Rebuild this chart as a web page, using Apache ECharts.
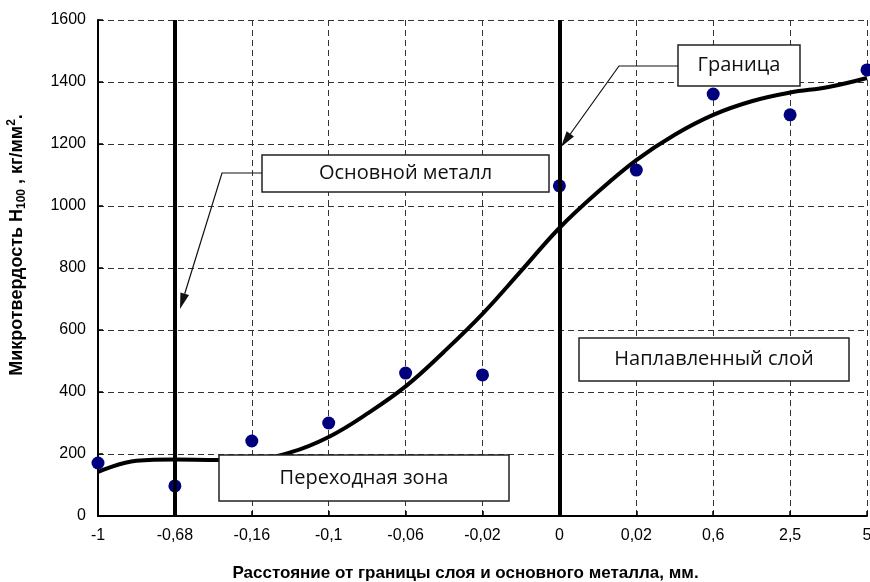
<!DOCTYPE html>
<html>
<head>
<meta charset="utf-8">
<script src="https://cdn.jsdelivr.net/npm/echarts@6/dist/echarts.min.js"></script>
<style>
html,body{margin:0;padding:0;background:#fff;}
#chart{width:870px;height:582px;}
</style>
</head>
<body>
<div id="chart"></div>
<script>
// Tick labels (categorical positions 0..10)
const xLabels = ['-1', '-0,68', '-0,16', '-0,1', '-0,06', '-0,02', '0', '0,02', '0,6', '2,5', '5'];
// Measured points (index along x, value)
const pointX = [0, 1, 2, 3, 4, 5, 6, 7, 8, 9, 10];
const pointY = [171, 97, 242, 300, 461, 455, 1065, 1116, 1361, 1294, 1439];
// Fitted curve
const curveX = [0, 0.5, 1, 1.5, 2, 2.5, 3, 3.5, 4, 4.5, 5, 5.5, 6, 6.5, 7, 7.5, 8, 8.5, 9, 9.5, 10];
const curveY = [142, 178, 182, 181, 182, 205, 255, 330, 418, 530, 652, 790, 929, 1045, 1148, 1230, 1294, 1338, 1366, 1384, 1413];
// Vertical boundary lines (at x indices)
const boundaryX = [1, 6];
const yTicks = [0, 200, 400, 600, 800, 1000, 1200, 1400, 1600];

const chart = echarts.init(document.getElementById('chart'), null, {renderer: 'canvas'});
const axisFont = 'Liberation Sans, Arial, sans-serif';
const boxFont = '"Open Sans", "Noto Sans", sans-serif';

function box(x, y, w, h, text) {
  return {
    type: 'group', z: 100,
    children: [
      {type: 'rect', z: 100, shape: {x: x, y: y, width: w, height: h},
       style: {fill: '#fff', stroke: '#222', lineWidth: 1.5}},
      {type: 'text', z: 101, x: x + w / 2, y: y + h / 2,
       style: {text: text, fill: '#111', font: '20px ' + boxFont, textAlign: 'center', textVerticalAlign: 'middle'}}
    ]
  };
}
function arrow(points, tip, from) {
  const dx = tip[0] - from[0], dy = tip[1] - from[1];
  const L = Math.sqrt(dx * dx + dy * dy);
  const ux = dx / L, uy = dy / L;
  const hl = 16, hw = 4.5;
  const bx = tip[0] - ux * hl, by = tip[1] - uy * hl;
  return {
    type: 'group', z: 99,
    children: [
      {type: 'polyline', z: 99, shape: {points: points.concat([[bx, by]])}, style: {stroke: '#111', lineWidth: 1.2, fill: null}},
      {type: 'polygon', z: 99, shape: {points: [tip, [bx - uy * hw, by + ux * hw], [bx + uy * hw, by - ux * hw]]},
       style: {fill: '#111'}}
    ]
  };
}

const option = {
  backgroundColor: '#fff',
  animation: false,
  grid: {left: 98, right: 3, top: 20, bottom: 66, containLabel: false, outerBoundsMode: 'none'},
  xAxis: {
    type: 'value', min: 0, max: 10, interval: 1,
    name: 'Расстояние от границы слоя и основного металла, мм.',
    nameLocation: 'middle', nameGap: 49,
    nameTextStyle: {fontFamily: axisFont, fontWeight: 'bold', fontSize: 17, color: '#000', padding: [0, 34, 0, 0]},
    axisLine: {lineStyle: {color: '#000', width: 2}},
    axisTick: {inside: true, length: 5, lineStyle: {color: '#000', width: 1.5}},
    axisLabel: {
      formatter: v => xLabels[Math.round(v)] || '',
      fontFamily: axisFont, fontSize: 16, color: '#000', margin: 12
    },
    splitLine: {show: true, lineStyle: {color: '#333', type: [6, 4], width: 1}}
  },
  yAxis: {
    type: 'value', min: 0, max: 1600, interval: 200,
    name: '{b|Микротвердость H}{sub|100}{b| , кг/мм}{sup|2}{b|.}',
    nameLocation: 'middle', nameGap: 70, nameRotate: 90,
    nameTextStyle: {
      fontFamily: axisFont, fontWeight: 'bold', fontSize: 18, color: '#000',
      padding: [0, 0, 0, 46],
      rich: {
        b: {fontFamily: axisFont, fontWeight: 'bold', fontSize: 18, color: '#000', verticalAlign: 'middle', lineHeight: 22},
        sub: {fontFamily: axisFont, fontWeight: 'bold', fontSize: 12, color: '#000', verticalAlign: 'bottom', lineHeight: 22, padding: [7, 0, 0, 0]},
        sup: {fontFamily: axisFont, fontWeight: 'bold', fontSize: 12, color: '#000', verticalAlign: 'top', lineHeight: 22}
      }
    },
    axisLine: {show: true, lineStyle: {color: '#000', width: 2}},
    axisTick: {show: true, inside: true, length: 5, lineStyle: {color: '#000', width: 1.5}},
    axisLabel: {fontFamily: axisFont, fontSize: 16, color: '#000', margin: 12,
      formatter: v => yTicks.indexOf(v) >= 0 ? String(v) : ''},
    splitLine: {show: true, lineStyle: {color: '#333', type: [6, 4], width: 1}}
  },
  series: [
    {
      type: 'line', smooth: 0.4, showSymbol: false, symbol: 'none', z: 3,
      data: curveX.map((x, i) => [x, curveY[i]]),
      lineStyle: {color: '#000', width: 4},
      markLine: {
        silent: true, symbol: ['none', 'none'], label: {show: false},
        lineStyle: {color: '#000', width: 4, type: 'solid'},
        data: boundaryX.map(x => ({xAxis: x}))
      }
    },
    {
      type: 'scatter', symbolSize: 13, z: 4,
      itemStyle: {color: '#00007f', opacity: 1},
      data: pointX.map((x, i) => [x, pointY[i]])
    }
  ],
  graphic: [
    box(262, 155, 287, 37, 'Основной металл'),
    box(678, 45, 122, 41, 'Граница'),
    box(579, 338, 270, 43, 'Наплавленный слой'),
    box(219, 455, 290, 46, 'Переходная зона'),
    arrow([[262, 173], [222, 173]], [180, 309], [222, 173]),
    arrow([[678, 66], [619, 66]], [561, 147], [619, 66])
  ]
};
chart.setOption(option);
</script>
</body>
</html>
